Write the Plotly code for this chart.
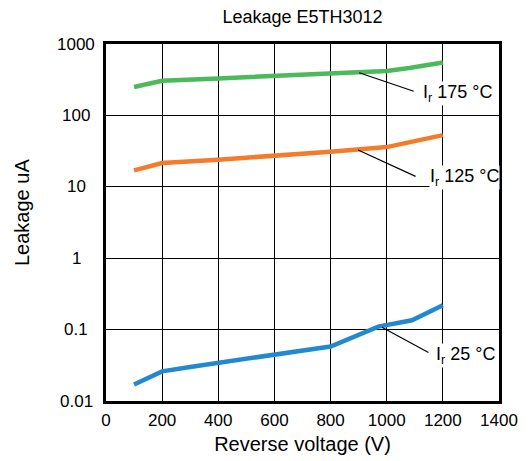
import math
import plotly.graph_objects as go

# Data
v_175 = [100, 200, 400, 600, 800, 1000, 1080, 1200]
i_175 = [250, 305, 330, 355, 380, 420, 460, 550]

v_125 = [100, 200, 400, 600, 800, 1000, 1080, 1200]
i_125 = [17, 21.5, 24, 27, 31, 36, 42, 53]

v_25 = [100, 200, 300, 400, 600, 800, 970, 1090, 1200]
i_25 = [0.017, 0.026, 0.030, 0.034, 0.045, 0.058, 0.11, 0.135, 0.22]

x_ticks = [0, 200, 400, 600, 800, 1000, 1200, 1400]
y_ticks = [0.01, 0.1, 1, 10, 100, 1000]
y_ticktext = ["0.01", "0.1", "1", "10", "100", "1000"]

labels = ["I<sub>r</sub> 175 °C", "I<sub>r</sub> 125 °C", "I<sub>r</sub> 25 °C"]
# leader-line anchor points on curves (V, value)
anchor_v = [902, 898, 983]
anchor_i = [396, 32.7, 0.1077]

FONT = "Liberation Sans, Arial, Helvetica, sans-serif"

fig = go.Figure()
fig.add_trace(go.Scatter(x=v_175, y=i_175, mode="lines",
                         line=dict(color="#4CB95A", width=4.5), showlegend=False))
fig.add_trace(go.Scatter(x=v_125, y=i_125, mode="lines",
                         line=dict(color="#F47B2A", width=4.5), showlegend=False))
fig.add_trace(go.Scatter(x=v_25, y=i_25, mode="lines",
                         line=dict(color="#2289D0", width=4.5), showlegend=False))

offsets = [(56, 19), (59, 27), (48, 26)]
text_off = [(63, 21), (71, 27), (53, 28)]
for lab, av, ai, (dx, dy), (tx, ty) in zip(labels, anchor_v, anchor_i, offsets, text_off):
    fig.add_annotation(x=av, y=math.log10(ai), xref="x", yref="y", text="",
                       showarrow=True, arrowhead=0, arrowwidth=1.2, arrowcolor="black",
                       ax=dx, ay=dy, axref="pixel", ayref="pixel")
    fig.add_annotation(x=av, y=math.log10(ai), xref="x", yref="y", text=lab,
                       showarrow=False, xshift=tx, yshift=-ty,
                       xanchor="left", yanchor="middle",
                       bgcolor="white", borderpad=0,
                       font=dict(size=18, color="black", family=FONT))

# y tick labels, centred as in the reference
for val, txt in zip(y_ticks, y_ticktext):
    fig.add_annotation(x=-30 / 393, y=math.log10(val), xref="x domain", yref="y",
                       text=txt, showarrow=False, xanchor="center", yanchor="middle",
                       font=dict(size=17, color="black", family=FONT))

# y axis title (placed slightly above centre as in the reference)
fig.add_annotation(x=(22 - 106) / 393, y=(401 - 213) / 357, xref="paper", yref="paper",
                   text="Leakage uA", textangle=-90, showarrow=False,
                   xanchor="center", yanchor="middle",
                   font=dict(size=20, color="black", family=FONT))

fig.update_layout(
    width=528, height=461,
    margin=dict(l=106, r=29, t=44, b=60, autoexpand=False),
    paper_bgcolor="white", plot_bgcolor="white",
    font=dict(family=FONT, color="black", size=17),
    title=dict(text="Leakage E5TH3012", x=(106 + 499) / 2 / 528, xanchor="center",
               y=1 - 17 / 461, yanchor="middle", font=dict(size=18, family=FONT)),
    showlegend=False,
)
fig.update_xaxes(range=[0, 1400], tickvals=x_ticks, showgrid=True, gridcolor="black",
                 gridwidth=1.3, showline=True, linecolor="black", linewidth=3, mirror=True,
                 ticks="", zeroline=False, tickfont=dict(size=17), ticklabelstandoff=2,
                 automargin=False,
                 title=dict(text="Reverse voltage (V)", font=dict(size=20), standoff=8))
fig.update_yaxes(type="log", range=[-2, 3], tickvals=y_ticks, showticklabels=False,
                 automargin=False,
                 showgrid=True, gridcolor="black", gridwidth=1.3, showline=True,
                 linecolor="black", linewidth=3, mirror=True, ticks="", zeroline=False)

fig.write_html("out.html")
